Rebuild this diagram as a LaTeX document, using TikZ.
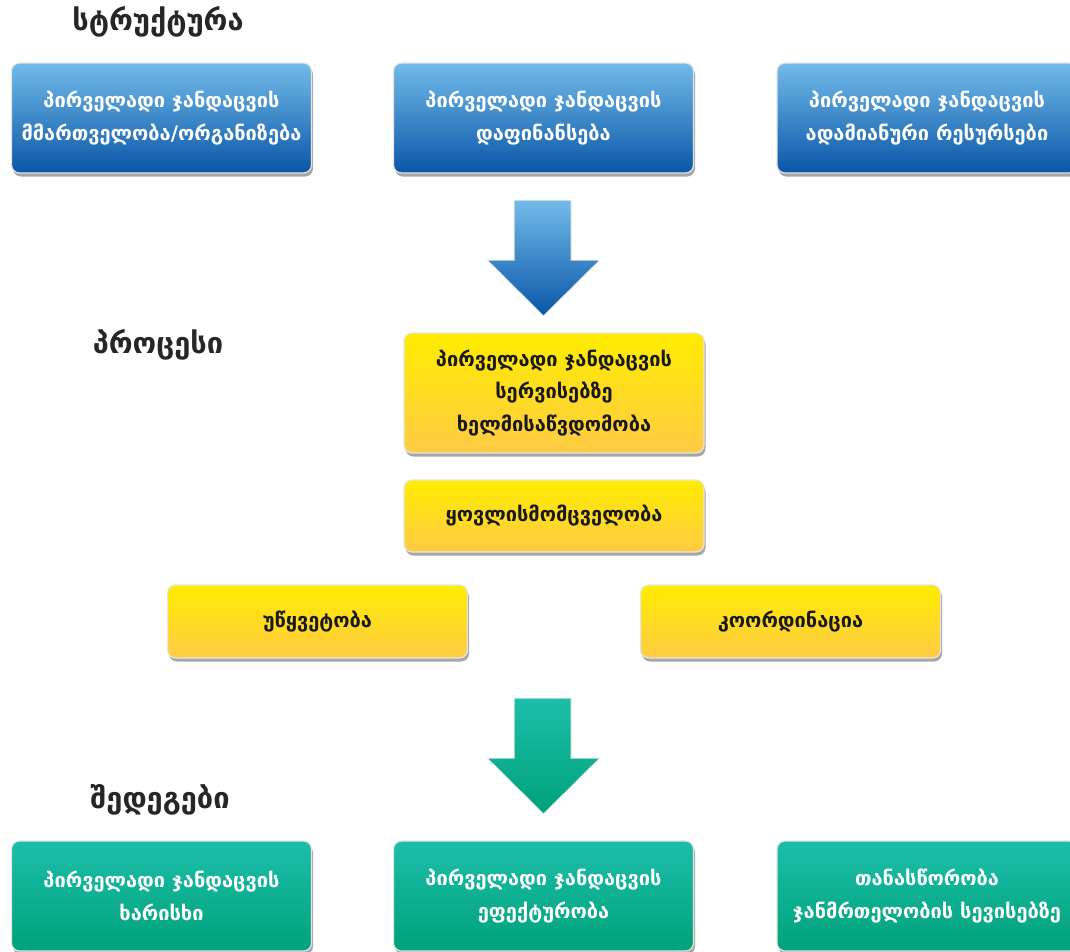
\documentclass[tikz,border=0pt]{standalone}
\usepackage{fontspec}
\setmainfont{DejaVu Sans}
\usetikzlibrary{shapes,arrows.meta,positioning,shadows}
\usepackage{xcolor}

\definecolor{bluetop}{HTML}{72BBE9}
\definecolor{bluebot}{HTML}{0A56A8}
\definecolor{yeltop}{HTML}{FFEC00}
\definecolor{yelbot}{HTML}{FFCB45}
\definecolor{grntop}{HTML}{1CBEAA}
\definecolor{grnbot}{HTML}{00A27A}

\begin{document}
\begin{tikzpicture}[
    x=1pt, y=-1pt,
    box/.style={rectangle, rounded corners=8pt, draw=black!10, line width=1.2pt, align=center, inner sep=0pt, minimum width=300pt, font=\bfseries\fontsize{20}{32.5}\selectfont, drop shadow={shadow xshift=1.5pt, shadow yshift=-3.5pt, fill=black, opacity=0.35}},
    bluebox/.style={box, top color=bluetop, bottom color=bluebot, text=white, minimum height=110pt},
    yellowbox/.style={box, top color=yeltop, bottom color=yelbot, text=black!90},
    greenbox/.style={box, top color=grntop, bottom color=grnbot, text=white, minimum height=110pt},
    heading/.style={font=\bfseries\fontsize{29}{32}\selectfont, text=black!85},
    bigarrow/.style={draw=black!8, line width=1pt}
]
    \useasboundingbox (0,0) rectangle (1070,951);

    % სტრუქტურა
    \node[heading] (struct) at (158, 22) {სტრუქტურა};
    \node[bluebox] (gov) at (161.5, 118) {პირველადი ჯანდაცვის\\მმართველობა/ორგანიზება};
    \node[bluebox] (fin) at (543.5, 118) {პირველადი ჯანდაცვის\\დაფინანსება};
    \node[bluebox] (hr) at (927, 118) {პირველადი ჯანდაცვის\\ადამიანური რესურსები};

    \path[bigarrow, top color=bluetop, bottom color=bluebot]
        (514,200) -- (571,200) -- (571,260) -- (600,260) -- (543.5,316) -- (487,260) -- (514,260) -- cycle;

    % პროცესი
    \node[heading] (proc) at (158, 345) {პროცესი};
    \node[yellowbox, minimum height=120pt] (access) at (554, 393) {პირველადი ჯანდაცვის\\სერვისებზე\\ხელმისაწვდომობა};
    \node[yellowbox, minimum height=72pt] (compr) at (554, 516) {ყოვლისმომცველობა};
    \node[yellowbox, minimum height=73pt] (cont) at (317.5, 621.5) {უწყვეტობა};
    \node[yellowbox, minimum height=73pt] (coord) at (790.5, 621.5) {კოორდინაცია};

    \path[bigarrow, top color=grntop, bottom color=grnbot]
        (514,698) -- (571,698) -- (571,758) -- (600,758) -- (543.5,814) -- (487,758) -- (514,758) -- cycle;

    % შედეგები
    \node[heading] (result) at (160, 800) {შედეგები};
    \node[greenbox] (quality) at (161.5, 896) {პირველადი ჯანდაცვის\\ხარისხი};
    \node[greenbox] (effect) at (543.5, 896) {პირველადი ჯანდაცვის\\ეფექტურობა};
    \node[greenbox] (equity) at (927, 896) {თანასწორობა\\ჯანმრთელობის სევისებზე};
\end{tikzpicture}
\end{document}
